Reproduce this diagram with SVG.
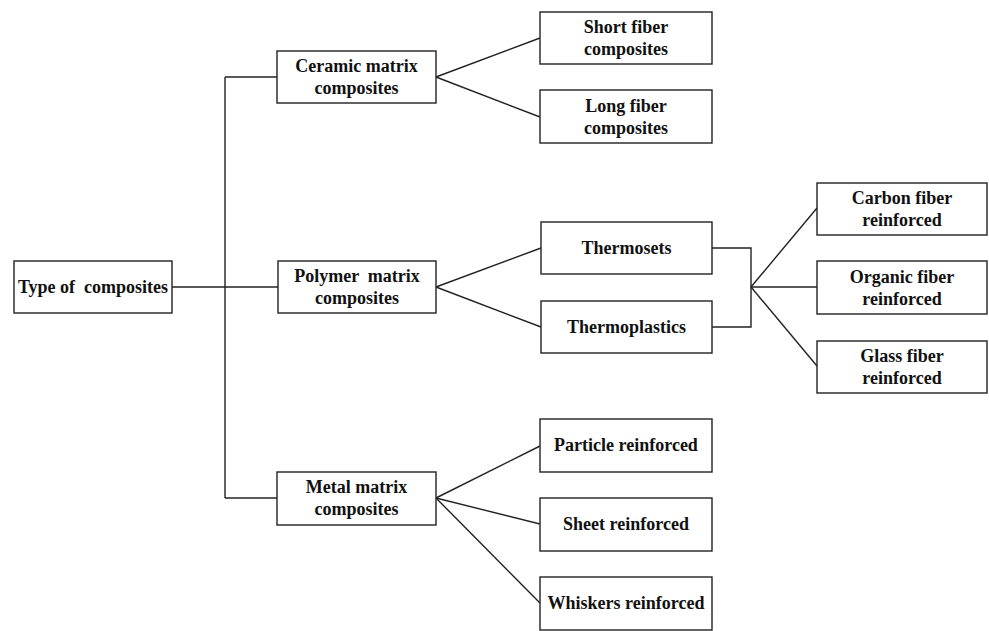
<svg xmlns="http://www.w3.org/2000/svg" width="989" height="631" viewBox="0 0 989 631">
<style>
rect{fill:#fff;stroke:#222;stroke-width:1.4}
text{font-family:"Liberation Serif","Times New Roman",serif;font-weight:bold;font-size:18px;fill:#111;text-anchor:middle;white-space:pre}
.c line,.c polyline{stroke:#222;stroke-width:1.4;fill:none}
</style>
<rect x="0" y="0" width="989" height="631" style="fill:#fff;stroke:none"/>
<g class="c" id="connectors">
<line x1="172" y1="287" x2="278" y2="287"/>
<line x1="225" y1="77" x2="225" y2="498"/>
<line x1="225" y1="77" x2="277" y2="77"/>
<line x1="225" y1="498" x2="277" y2="498"/>
<line x1="436" y1="77" x2="540" y2="38"/>
<line x1="436" y1="77" x2="540" y2="117"/>
<line x1="436" y1="287" x2="541" y2="248"/>
<line x1="436" y1="287" x2="541" y2="327"/>
<polyline points="712,248 751,248 751,327 712,327"/>
<line x1="751" y1="287" x2="817" y2="208"/>
<line x1="751" y1="287" x2="817" y2="287"/>
<line x1="751" y1="287" x2="817" y2="366"/>
<line x1="436" y1="498" x2="540" y2="446"/>
<line x1="436" y1="498" x2="540" y2="524"/>
<line x1="436" y1="498" x2="540" y2="603"/>
</g>
<g id="type"><rect x="14" y="261" width="158" height="52"/><text x="93" y="293">Type of  composites</text></g>
<g id="ceramic"><rect x="277" y="51" width="159" height="52"/><text x="356.5" y="72">Ceramic matrix</text><text x="356.5" y="94">composites</text></g>
<g id="polymer"><rect x="278" y="261" width="158" height="52"/><text x="357" y="282">Polymer  matrix</text><text x="357" y="304">composites</text></g>
<g id="metal"><rect x="277" y="472" width="159" height="53"/><text x="356.5" y="493">Metal matrix</text><text x="356.5" y="515">composites</text></g>
<g id="short"><rect x="540" y="12" width="172" height="52"/><text x="626" y="33">Short fiber</text><text x="626" y="55">composites</text></g>
<g id="long"><rect x="540" y="90" width="172" height="53"/><text x="626" y="112">Long fiber</text><text x="626" y="134">composites</text></g>
<g id="thermosets"><rect x="541" y="222" width="171" height="52"/><text x="626.5" y="254">Thermosets</text></g>
<g id="thermoplastics"><rect x="541" y="301" width="171" height="52"/><text x="626.5" y="333">Thermoplastics</text></g>
<g id="carbon"><rect x="817" y="183" width="170" height="52"/><text x="902" y="204">Carbon fiber</text><text x="902" y="226">reinforced</text></g>
<g id="organic"><rect x="817" y="261" width="170" height="53"/><text x="902" y="283">Organic fiber</text><text x="902" y="305">reinforced</text></g>
<g id="glass"><rect x="817" y="341" width="170" height="52"/><text x="902" y="362">Glass fiber</text><text x="902" y="384">reinforced</text></g>
<g id="particle"><rect x="540" y="419" width="172" height="53"/><text x="626" y="451">Particle reinforced</text></g>
<g id="sheet"><rect x="540" y="498" width="172" height="53"/><text x="626" y="530">Sheet reinforced</text></g>
<g id="whiskers"><rect x="540" y="577" width="172" height="53"/><text x="626" y="609">Whiskers reinforced</text></g>
</svg>
